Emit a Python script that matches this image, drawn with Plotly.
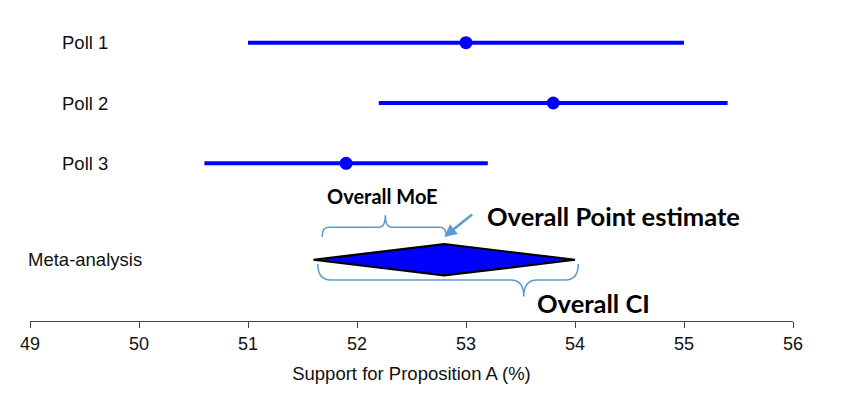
import plotly.graph_objects as go

# ---- data ----
poll_labels = ["Poll 1", "Poll 2", "Poll 3"]
poll_est = [53.0, 53.8, 51.9]
poll_lo = [51.0, 52.2, 50.6]
poll_hi = [55.0, 55.4, 53.2]
poll_y = [3, 2, 1]

meta_label = "Meta-analysis"
meta_est = 52.8
meta_lo = 51.6
meta_hi = 54.0
meta_y = -0.6

x_ticks = [49, 50, 51, 52, 53, 54, 55, 56]

BLUE = "#0000FF"
BRACE = "#5B9BD5"
TXT_FONT = "Lato, 'Open Sans', sans-serif"
AX_FONT = "Arial, 'Liberation Sans', sans-serif"

fig = go.Figure()

# poll intervals with point estimates
fig.add_trace(go.Scatter(
    x=poll_est, y=poll_y, mode="markers",
    marker=dict(color=BLUE, size=13),
    error_x=dict(type="data", symmetric=False,
                 array=[h - e for h, e in zip(poll_hi, poll_est)],
                 arrayminus=[e - l for e, l in zip(poll_est, poll_lo)],
                 color=BLUE, thickness=4, width=0),
    showlegend=False, hoverinfo="skip"))

# meta-analysis diamond
dh = 0.26
fig.add_trace(go.Scatter(
    x=[meta_lo, meta_est, meta_hi, meta_est, meta_lo],
    y=[meta_y, meta_y + dh, meta_y, meta_y - dh, meta_y],
    mode="lines", fill="toself", fillcolor=BLUE,
    line=dict(color="black", width=2.2),
    showlegend=False, hoverinfo="skip"))


def brace(x1, x2, xm, yb, yf, yp, dx=0.06):
    return (f"M {x1},{yb} Q {x1},{yf} {x1+dx},{yf} L {xm-dx},{yf} "
            f"Q {xm},{yf} {xm},{yp} Q {xm},{yf} {xm+dx},{yf} "
            f"L {x2-dx},{yf} Q {x2},{yf} {x2},{yb}")


# MoE brace (above diamond)
fig.add_shape(type="path", xref="x", yref="y",
              path=brace(meta_lo + 0.08, meta_est + 0.02, 52.26, -0.22, -0.06, 0.14),
              line=dict(color=BRACE, width=1.5))
# CI brace (below diamond)
fig.add_shape(type="path", xref="x", yref="y",
              path=brace(meta_lo + 0.04, meta_hi + 0.03, 53.53, -0.67, -0.935, -1.21, dx=0.12),
              line=dict(color=BRACE, width=1.5))

annotations = []
# row labels
for lab, yy in zip(poll_labels + [meta_label], poll_y + [meta_y]):
    annotations.append(dict(x=(84 - 29.3) / 763, xref="paper", y=yy, yref="y",
                            text=lab, showarrow=False, xanchor="center",
                            font=dict(family=AX_FONT, size=18.5, color="#111")))

annotations.append(dict(x=52.23, y=0.46, xref="x", yref="y", text="<b>Overall MoE</b>",
                        showarrow=False, xanchor="center",
                        font=dict(family=TXT_FONT, size=20, color="black")))
annotations.append(dict(x=53.17, y=0.13, xref="x", yref="y", text="<b>Overall Point estimate</b>",
                        showarrow=False, xanchor="left",
                        font=dict(family=TXT_FONT, size=25.5, color="black")))
annotations.append(dict(x=53.63, y=-1.32, xref="x", yref="y", text="<b>Overall CI</b>",
                        showarrow=False, xanchor="left",
                        font=dict(family=TXT_FONT, size=25.5, color="black")))
# arrow to point estimate
annotations.append(dict(x=meta_est, y=-0.22, xref="x", yref="y",
                        ax=53.07, ay=0.17, axref="x", ayref="y", text="",
                        showarrow=True, arrowhead=2, arrowsize=1, arrowwidth=2.5,
                        arrowcolor=BRACE, standoff=0))

# page has an 8px body margin: offset the figure accordingly
off = 8
top_px, bot_px, y3_px, unit_px = 10, 321, 42.7, 60.3
y_top = 3 + (y3_px - top_px) / unit_px
y_bot = 3 - (bot_px - y3_px) / unit_px
W, H = 844 - off, 398 - off

fig.update_layout(
    width=W, height=H,
    margin=dict(l=30 - off, r=W - (793 - off), t=top_px - off, b=H - (bot_px - off)),
    paper_bgcolor="white", plot_bgcolor="white",
    annotations=annotations,
    xaxis=dict(range=[49, 56], tickvals=x_ticks, ticktext=[str(t) for t in x_ticks],
               showline=True, linecolor="#444", linewidth=1,
               ticks="outside", ticklen=6, tickcolor="#444",
               showgrid=False, zeroline=False,
               tickfont=dict(family=AX_FONT, size=18, color="#111"),
               title=dict(text="Support for Proposition A (%)", standoff=14,
                          font=dict(family=AX_FONT, size=18.5, color="#111")),
               automargin=False),
    yaxis=dict(range=[y_bot, y_top], visible=False, showgrid=False, zeroline=False),
)

fig.write_html("out.html")
